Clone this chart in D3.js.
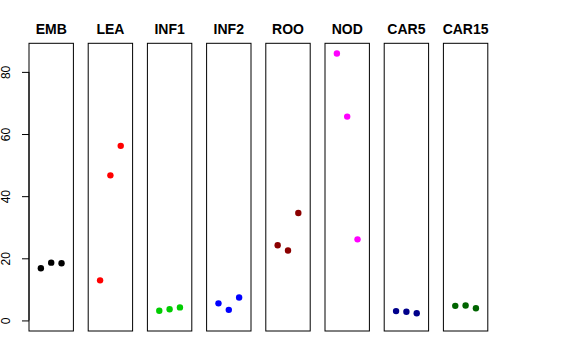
<!DOCTYPE html>
<html>
<head>
<meta charset="utf-8">
<script src="https://cdn.jsdelivr.net/npm/d3@7"></script>
<style>
  body { margin: 0; background: #fff; }
  text { font-family: "Liberation Sans", Arial, Helvetica, sans-serif; }
</style>
</head>
<body>
<div id="my_dataviz"></div>
<script>
// tissues, one panel each
const tissues = ["EMB", "LEA", "INF1", "INF2", "ROO", "NOD", "CAR5", "CAR15"];
// three replicate values per tissue
const EMB = [16.8, 18.6, 18.4];
const LEA = [12.9, 46.7, 56.2];
const INF1 = [3.1, 3.6, 4.2];
const INF2 = [5.5, 3.4, 7.4];
const ROO = [24.2, 22.5, 34.6];
const NOD = [85.9, 65.6, 26.1];
const CAR5 = [3.0, 2.8, 2.3];
const CAR15 = [4.7, 4.8, 3.9];
const colours = ["#000000", "#ff0000", "#00cd00", "#0000ff", "#8b0000", "#ff00ff", "#00008b", "#006400"];
const yTicks = [0, 20, 40, 60, 80];

const values = [EMB, LEA, INF1, INF2, ROO, NOD, CAR5, CAR15];

const width = 576, height = 360;

const svg = d3.select("#my_dataviz")
  .append("svg")
    .attr("width", width)
    .attr("height", height);

// one band per panel
const x = d3.scaleBand()
    .domain(tissues)
    .range([29, 487.8])
    .paddingInner(0.25)
    .paddingOuter(0);

const y = d3.scaleLinear()
    .domain([-3.4, 89.2])
    .range([331, 43.3]);

// position of the replicate inside a panel
const xi = d3.scaleLinear()
    .domain([-0.15, 4.15])
    .range([0, x.bandwidth()]);

// left axis, only on the first panel
const yAxis = svg.append("g")
    .attr("transform", `translate(${x(tissues[0])},0)`)
    .call(d3.axisLeft(y).tickValues(yTicks).tickSize(7).tickPadding(4).tickSizeOuter(0));
yAxis.select(".domain")
    .attr("d", `M0,${y(0)}V${y(80)}`)
    .attr("stroke", "#000");
yAxis.selectAll(".tick line").attr("stroke", "#000");
yAxis.selectAll(".tick text")
    .attr("font-size", 12)
    .attr("fill", "#000")
    .attr("font-family", "'Liberation Sans', Arial, sans-serif")
    .attr("transform", "rotate(-90)")
    .attr("x", 0)
    .attr("y", -19)
    .attr("dy", "0")
    .attr("text-anchor", "middle");

const panels = svg.append("g")
  .selectAll("g")
  .data(tissues)
  .join("g")
    .attr("transform", d => `translate(${x(d)},0)`);

panels.append("rect")
    .attr("x", 0)
    .attr("y", y.range()[1])
    .attr("width", x.bandwidth())
    .attr("height", y.range()[0] - y.range()[1])
    .attr("fill", "none")
    .attr("stroke", "#000")
    .attr("stroke-width", 1);

panels.append("text")
    .attr("x", x.bandwidth() / 2)
    .attr("y", 33.5)
    .attr("text-anchor", "middle")
    .attr("font-weight", "bold")
    .attr("font-size", 14)
    .text(d => d);

panels.selectAll("circle")
  .data((d, i) => values[i].map((v, j) => ({v: v, j: j + 1, c: colours[i]})))
  .join("circle")
    .attr("cx", d => xi(d.j))
    .attr("cy", d => y(d.v))
    .attr("r", 3.2)
    .attr("fill", d => d.c);
</script>
</body>
</html>
